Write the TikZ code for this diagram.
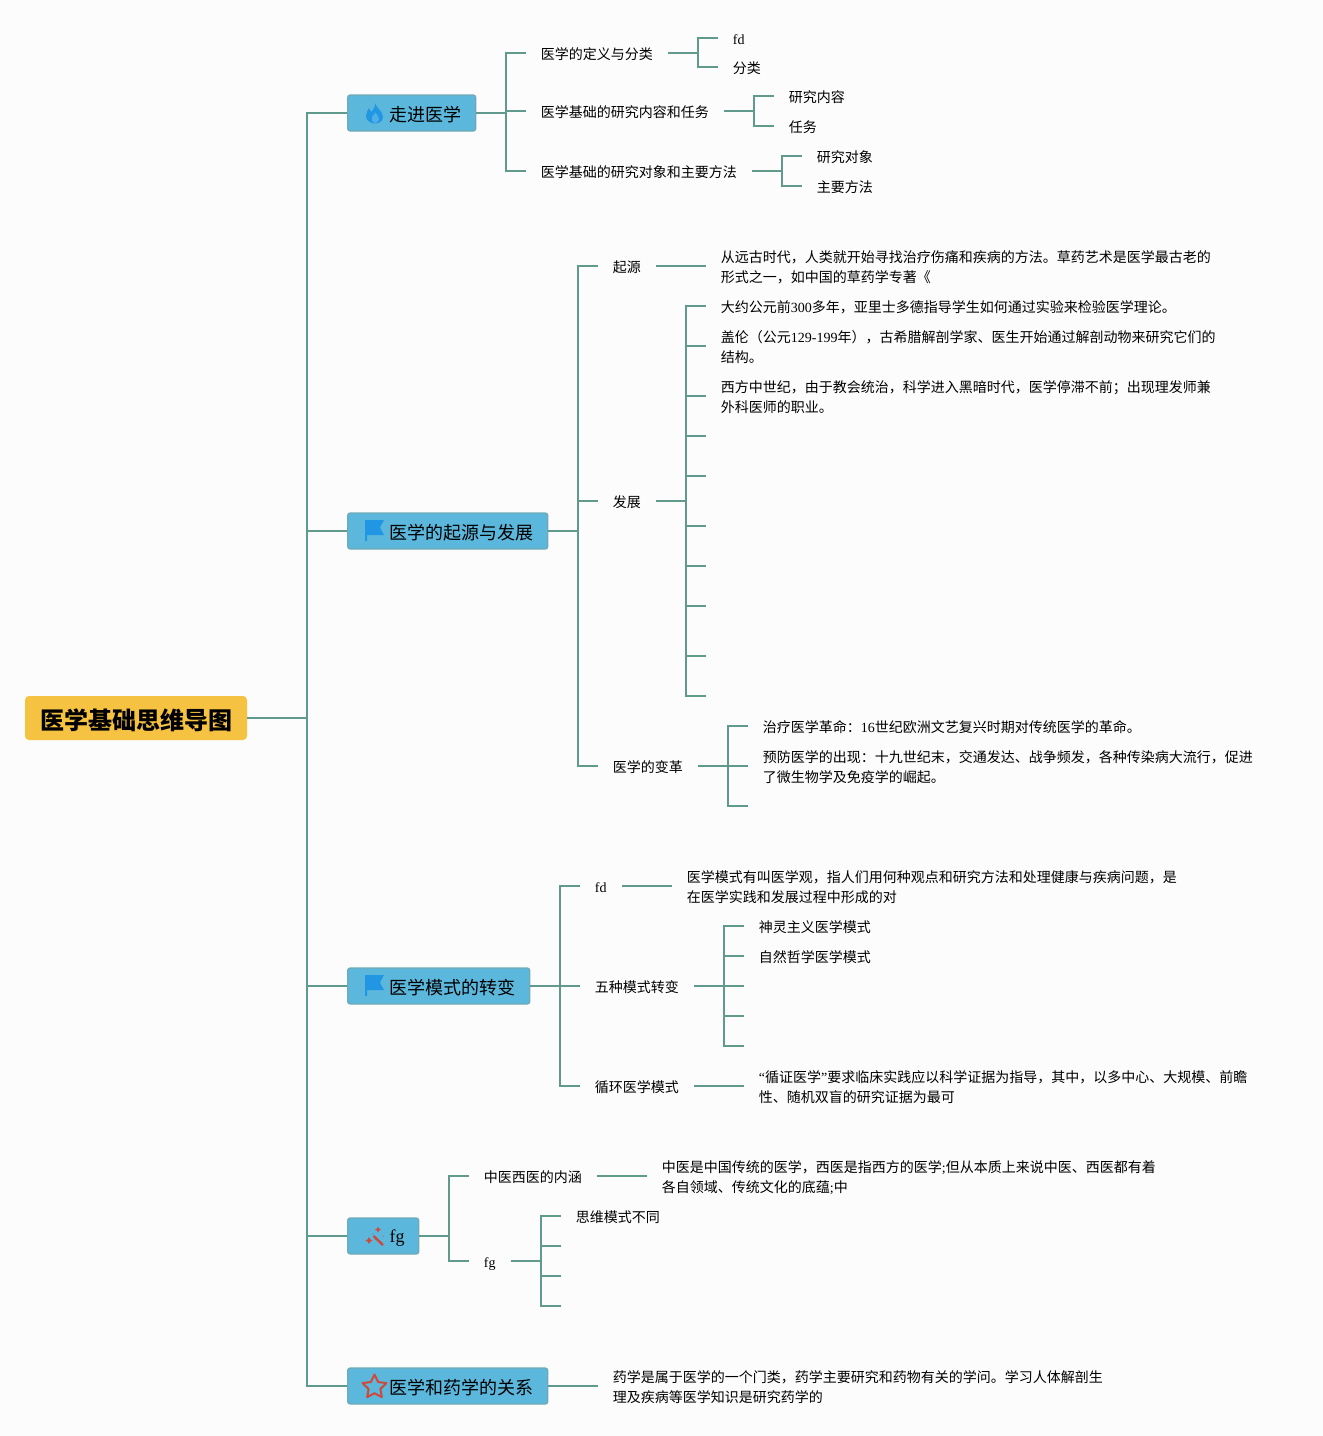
\documentclass[tikz,border=0pt]{standalone}
\usepackage{fontspec}
\setmainfont{Noto Sans CJK SC}
\newfontfamily\latf{Liberation Serif}
\newcommand{\lat}[1]{{\latf #1}}
\newcommand{\twol}[2]{\vbox{\baselineskip=15pt\lineskiplimit=-100pt
  \hbox{\rule{0pt}{11.5pt}#1}\hbox{\rule[-2pt]{0pt}{2pt}#2}}}
\definecolor{bgc}{HTML}{FCFCFC}
\definecolor{linec}{HTML}{5F9A8C}
\definecolor{topicc}{HTML}{5BB8DC}
\definecolor{topicb}{HTML}{6FAAB6}
\definecolor{rootc}{HTML}{F5C242}
\definecolor{blueic}{HTML}{2196E3}
\definecolor{blueil}{HTML}{4FAEE6}
\definecolor{redic}{HTML}{D0483A}
\tikzset{
  conn/.style={draw=linec,line width=1.5pt},
  leaf/.style={anchor=west,inner xsep=11.2pt,inner ysep=0pt,outer sep=0pt,text=black,
    font=\fontsize{10.5pt}{15pt}\selectfont,
    execute at begin node={\rule{0pt}{11.5pt}},
    execute at end node={\rule[-2pt]{0pt}{0pt}}},
  leaftwo/.style={anchor=west,inner xsep=11.2pt,inner ysep=0pt,outer sep=0pt,text=black,
    font=\fontsize{10.5pt}{15pt}\selectfont},
  topic/.style={anchor=west,fill=topicc,draw=topicb,line width=1pt,rounded corners=2pt,
    inner xsep=10.7pt,inner ysep=0pt,minimum height=27pt,text=black,
    font=\fontsize{13.5pt}{16pt}\selectfont,
    execute at begin node={\rule{0pt}{14.9pt}},
    execute at end node={\rule[-2.5pt]{0pt}{0pt}}},
  rootn/.style={anchor=west,fill=rootc,rounded corners=3pt,inner xsep=10.5pt,inner ysep=0pt,outer sep=0pt,
    minimum height=33pt,text=black,font=\fontsize{18pt}{22pt}\selectfont\bfseries,
    execute at begin node={\hspace*{1.5pt}\rule{0pt}{20pt}},
    execute at end node={\rule[-3.3pt]{0pt}{0pt}}}
}
\newcommand{\ic}{\hspace*{20.7pt}}
\begin{document}
\begin{tikzpicture}[x=0.75pt,y=-0.75pt]
\path[fill=bgc] (0,0) rectangle (1323,1436);
\useasboundingbox (0,0) rectangle (1323,1436);
% root and topics
\node[rootn] (root) at (25,718) {医学基础思维导图};
\node[topic] (t1) at (347,113) {\ic 走进医学};
\node[topic] (t2) at (347,531) {\ic 医学的起源与发展};
\node[topic] (t3) at (347,986) {\ic 医学模式的转变};
\node[topic] (t4) at (347,1236) {\ic \raisebox{1.5pt}{\lat{fg}}};
\node[topic] (t5) at (347,1386) {\ic 医学和药学的关系};
\coordinate (b0) at (307,718);
\draw[conn] (root.east) -- (b0);
\foreach \t in {t1,t2,t3,t4,t5} \draw[conn] (b0) |- (\t.west);
% topic 1
\coordinate (b1) at (506,113);
\draw[conn] (t1.east) -- (b1);
\node[leaf] (a1) at (526,53) {医学的定义与分类};
\node[leaf] (a2) at (526,111) {医学基础的研究内容和任务};
\node[leaf] (a3) at (526,171) {医学基础的研究对象和主要方法};
\foreach \c in {a1,a2,a3} \draw[conn] (b1) |- (\c.west);
\coordinate (ba1) at (698,53);
\draw[conn] (a1.east) -- (ba1);
\node[leaf] (a11) at (718,38) {\lat{fd}};
\node[leaf] (a12) at (718,67) {分类};
\foreach \c in {a11,a12} \draw[conn] (ba1) |- (\c.west);
\coordinate (ba2) at (754,111);
\draw[conn] (a2.east) -- (ba2);
\node[leaf] (a21) at (774,96) {研究内容};
\node[leaf] (a22) at (774,126) {任务};
\foreach \c in {a21,a22} \draw[conn] (ba2) |- (\c.west);
\coordinate (ba3) at (782,171);
\draw[conn] (a3.east) -- (ba3);
\node[leaf] (a31) at (802,156) {研究对象};
\node[leaf] (a32) at (802,186) {主要方法};
\foreach \c in {a31,a32} \draw[conn] (ba3) |- (\c.west);
% topic 2
\coordinate (b2) at (578,531);
\draw[conn] (t2.east) -- (b2);
\node[leaf] (o1) at (598,266) {起源};
\node[leaf] (o2) at (598,501) {发展};
\node[leaf] (o3) at (598,766) {医学的变革};
\foreach \c in {o1,o2,o3} \draw[conn] (b2) |- (\c.west);
\node[leaftwo] (o11) at (706,266) {\twol{从远古时代，人类就开始寻找治疗伤痛和疾病的方法。草药艺术是医学最古老的}{形式之一，如中国的草药学专著《}};
\draw[conn] (o1.east) -- (o11.west);
\coordinate (bo2) at (686,501);
\draw[conn] (o2.east) -- (bo2);
\node[leaf] (o21) at (706,306) {大约公元前\lat{300}多年，亚里士多德指导学生如何通过实验来检验医学理论。};
\node[leaftwo] (o22) at (706,346) {\twol{盖伦（公元\lat{129-199}年），古希腊解剖学家、医生开始通过解剖动物来研究它们的}{结构。}};
\node[leaftwo] (o23) at (706,396) {\twol{西方中世纪，由于教会统治，科学进入黑暗时代，医学停滞不前；出现理发师兼}{外科医师的职业。}};
\foreach \c in {o21,o22,o23} \draw[conn] (bo2) |- (\c.west);
\foreach \n/\y in {e1/436,e2/476,e3/526,e4/566,e5/606,e6/656,e7/696}{
  \coordinate (\n) at (706,\y);
  \draw[conn] (bo2) |- (\n);
}
\coordinate (bo3) at (728,766);
\draw[conn] (o3.east) -- (bo3);
\node[leaf] (o31) at (748,726) {治疗医学革命：\lat{16}世纪欧洲文艺复兴时期对传统医学的革命。};
\node[leaftwo] (o32) at (748,766) {\twol{预防医学的出现：十九世纪末，交通发达、战争频发，各种传染病大流行，促进}{了微生物学及免疫学的崛起。}};
\coordinate (e8) at (748,806);
\foreach \c in {o31.west,o32.west,e8} \draw[conn] (bo3) |- (\c);
% topic 3
\coordinate (b3) at (560,986);
\draw[conn] (t3.east) -- (b3);
\node[leaf] (m1) at (580,886) {\lat{fd}};
\node[leaf] (m2) at (580,986) {五种模式转变};
\node[leaf] (m3) at (580,1086) {循环医学模式};
\foreach \c in {m1,m2,m3} \draw[conn] (b3) |- (\c.west);
\node[leaftwo] (m11) at (672,886) {\twol{医学模式有叫医学观，指人们用何种观点和研究方法和处理健康与疾病问题，是}{在医学实践和发展过程中形成的对}};
\draw[conn] (m1.east) -- (m11.west);
\coordinate (bm2) at (724,986);
\draw[conn] (m2.east) -- (bm2);
\node[leaf] (m21) at (744,926) {神灵主义医学模式};
\node[leaf] (m22) at (744,956) {自然哲学医学模式};
\coordinate (e9) at (744,986);
\coordinate (e10) at (744,1016);
\coordinate (e11) at (744,1046);
\foreach \c in {m21.west,m22.west,e9,e10,e11} \draw[conn] (bm2) |- (\c);
\node[leaftwo] (m31) at (744,1086) {\twol{\lat{“}循证医学\lat{”}要求临床实践应以科学证据为指导，其中，以多中心、大规模、前瞻}{性、随机双盲的研究证据为最可}};
\draw[conn] (m3.east) -- (m31.west);
% topic 4
\coordinate (b4) at (449,1236);
\draw[conn] (t4.east) -- (b4);
\node[leaf] (f1) at (469,1176) {中医西医的内涵};
\node[leaf] (f2) at (469,1261) {\lat{fg}};
\foreach \c in {f1,f2} \draw[conn] (b4) |- (\c.west);
\node[leaftwo] (f11) at (647,1176) {\twol{中医是中国传统的医学，西医是指西方的医学\lat{;}但从本质上来说中医、西医都有着}{各自领域、传统文化的底蕴\lat{;}中}};
\draw[conn] (f1.east) -- (f11.west);
\coordinate (bf2) at (541,1261);
\draw[conn] (f2.east) -- (bf2);
\node[leaf] (f21) at (561,1216) {思维模式不同};
\coordinate (e12) at (561,1246);
\coordinate (e13) at (561,1276);
\coordinate (e14) at (561,1306);
\foreach \c in {f21.west,e12,e13,e14} \draw[conn] (bf2) |- (\c);
% topic 5
\node[leaftwo] (r1) at (598,1386) {\twol{药学是属于医学的一个门类，药学主要研究和药物有关的学问。学习人体解剖生}{理及疾病等医学知识是研究药学的}};
\draw[conn] (t5.east) -- (r1.west);
% icons
\fill[blueic] (375,103) .. controls (376,108) and (383,111) .. (383,117) .. controls (383,121) and (379,123.5) .. (375,123.5)
  .. controls (370,123.5) and (366,120) .. (366,116) .. controls (366,113) and (368,110) .. (369,108)
  .. controls (370,110) and (370.5,111) .. (371.5,112) .. controls (373,109) and (375.5,107) .. (375,103) -- cycle;
\fill[blueil] (375,123) .. controls (372,122) and (371,119) .. (372,117) .. controls (373,115) and (375,114) .. (375.5,112.5)
  .. controls (377,115) and (379,117) .. (379,119) .. controls (379,121) and (377,123) .. (375,123) -- cycle;
\foreach \yy in {531,986}{
  \fill[blueic] (365,\yy-11) -- (384,\yy-11) -- (380,\yy-3.5) -- (384,\yy+4) -- (367,\yy+4) -- (367,\yy+10) -- (365,\yy+10) -- cycle;
}
\draw[redic,line width=1.8pt] (373.5,1236) -- (383,1245);
\fill[redic] (378,1226.5) -- (379,1228.5) -- (381,1229.5) -- (379,1230.5) -- (378,1232.5) -- (377,1230.5) -- (375,1229.5) -- (377,1228.5) -- cycle;
\fill[redic] (369,1237) -- (370.2,1239.3) -- (372.5,1240.5) -- (370.2,1241.7) -- (369,1244) -- (367.8,1241.7) -- (365.5,1240.5) -- (367.8,1239.3) -- cycle;
\fill[redic] (383,1236) circle (0.7);
\fill[redic] (373,1234) circle (0.7);
\draw[redic,line width=1.5pt,line join=round] (374.5,1374.5) -- (378.1,1382) -- (386.4,1383.1) -- (380.4,1388.9) -- (381.8,1397.1) -- (374.5,1393.2) -- (367.2,1397.1) -- (368.6,1388.9) -- (362.6,1383.1) -- (370.9,1382) -- cycle;
\end{tikzpicture}
\end{document}
